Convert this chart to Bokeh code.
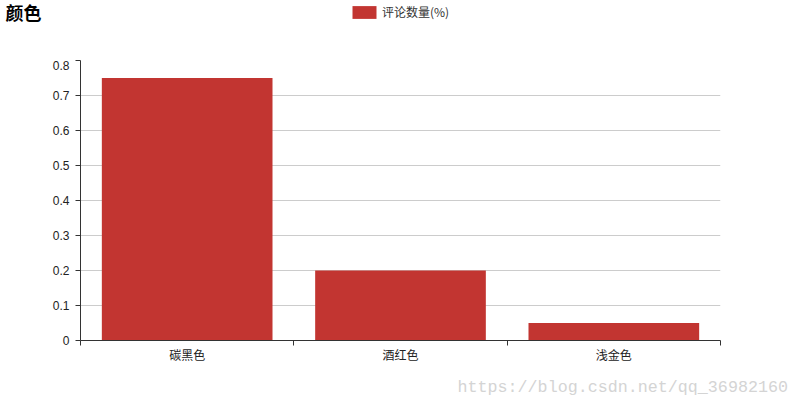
from bokeh.plotting import figure
from bokeh.layouts import column, row
from bokeh.models import (ColumnDataSource, FixedTicker, Label, Legend, LegendItem, Range1d)
from bokeh.embed import file_html
from bokeh.resources import INLINE

title_text = "颜色"
series_name = "评论数量(%)"
categories = ["碳黑色", "酒红色", "浅金色"]
values = [0.75, 0.20, 0.05]
y_ticks = [0, 0.1, 0.2, 0.3, 0.4, 0.5, 0.6, 0.7, 0.8]
watermark = "https://blog.csdn.net/qq_36982160"

BAR_COLOR = "#c23531"
W = 800
HEAD_H, MAIN_H = 60, 311
FOOT_H = 400 - HEAD_H - MAIN_H

# ---------- header: title + legend ----------
head = figure(width=W, height=HEAD_H, output_backend="svg", toolbar_location=None,
              x_range=Range1d(0, W), y_range=Range1d(0, HEAD_H),
              x_axis_location=None, y_axis_location=None,
              min_border_left=0, min_border_right=0, min_border_top=0, min_border_bottom=0)
head.outline_line_color = None
head.grid.visible = False
# zero-height proxy bar that only lends its style to the legend swatch
proxy = head.vbar(x=[0], top=[0], width=0, fill_color=BAR_COLOR, line_color=None)

head.add_layout(Label(x=5, y=HEAD_H + 2, x_units="screen", y_units="screen", text=title_text,
                      text_font="Noto Sans CJK SC", text_font_size="18px", text_font_style="bold",
                      text_color="#000000", text_baseline="top", text_align="left"))

legend = Legend(items=[LegendItem(label=series_name, renderers=[proxy])],
                location=(349, HEAD_H - 20), orientation="horizontal",
                padding=0, margin=0, spacing=0,
                glyph_width=30, glyph_height=16, label_height=13, label_standoff=3,
                label_text_font="Noto Sans CJK SC", label_text_font_size="12px",
                label_text_color="#333333",
                border_line_color=None, background_fill_alpha=0)
head.add_layout(legend, "center")

# ---------- main chart ----------
xs = [i + 0.5 for i in range(len(categories))]
src = ColumnDataSource(dict(x=xs, top=values, cat=categories))

p = figure(width=W, height=MAIN_H, output_backend="svg", toolbar_location=None,
           x_range=Range1d(0, len(categories)), y_range=Range1d(0, 0.8),
           min_border_left=80, min_border_right=80, min_border_top=0, min_border_bottom=31)
p.outline_line_color = None

bars = p.vbar(x="x", top="top", width=0.8, source=src, fill_color=BAR_COLOR, line_color=None)

# x axis: labels at centres, ticks at category boundaries
p.xaxis.ticker = FixedTicker(ticks=xs, minor_ticks=list(range(len(categories) + 1)))
p.xaxis.major_label_overrides = {x: c for x, c in zip(xs, categories)}
p.xaxis.major_tick_line_color = None
p.xaxis.major_tick_out = 0
p.xaxis.major_tick_in = 0
p.xaxis.minor_tick_line_color = "#333333"
p.xaxis.minor_tick_out = 5
p.xaxis.minor_tick_in = 0
p.xaxis.axis_line_color = "#333333"
p.xaxis.major_label_text_font = "Noto Sans CJK SC"
p.xaxis.major_label_text_font_size = "12px"
p.xaxis.major_label_text_color = "#222222"
p.xaxis.major_label_standoff = 0
p.xgrid.grid_line_color = None

p.yaxis.ticker = FixedTicker(ticks=y_ticks)
p.yaxis.major_label_overrides = {0: "0"}
p.yaxis.minor_tick_line_color = None
p.yaxis.major_tick_out = 5
p.yaxis.major_tick_in = 0
p.yaxis.major_tick_line_color = "#333333"
p.yaxis.axis_line_color = "#333333"
p.yaxis.major_label_text_font = "Liberation Sans"
p.yaxis.major_label_text_font_size = "12px"
p.yaxis.major_label_text_color = "#222222"
p.yaxis.major_label_standoff = 6
p.ygrid.grid_line_color = "#cccccc"

# ---------- footer: watermark ----------
foot = figure(width=W, height=FOOT_H, output_backend="svg", toolbar_location=None,
              x_range=Range1d(0, W), y_range=Range1d(0, FOOT_H),
              x_axis_location=None, y_axis_location=None,
              min_border_left=0, min_border_right=0, min_border_top=0, min_border_bottom=0)
foot.outline_line_color = None
foot.grid.visible = False
foot.add_layout(Label(x=457, y=FOOT_H - 16, x_units="screen", y_units="screen", text=watermark,
                      text_font="Liberation Mono", text_font_size="16.7px",
                      text_color="#d4d4d4", text_baseline="alphabetic", text_align="left"))

layout = column(row(head), row(p), row(foot), spacing=0)
open("out.html", "w").write(file_html(layout, INLINE))
